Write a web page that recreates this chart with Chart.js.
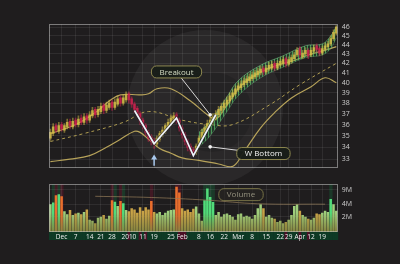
<!DOCTYPE html>
<html><head><meta charset="utf-8">
<script src="https://cdn.jsdelivr.net/npm/chart.js@4/dist/chart.umd.min.js"></script>
<style>
html,body{margin:0;padding:0;background:#1f1d1e;width:400px;height:264px;overflow:hidden;}
#wm{position:absolute;left:127px;top:30px;width:156px;height:156px;border-radius:50%;background:rgba(255,255,255,0.05);}
#wm2{position:absolute;left:172px;top:72px;width:80px;height:80px;border-radius:50%;background:rgba(0,0,0,0.12);}
#c1{position:absolute;left:0;top:0;}
#c2{position:absolute;left:0;top:176px;}
</style></head><body>
<div id="wm"></div><div id="wm2"></div>
<canvas id="c1" width="400" height="176"></canvas>
<canvas id="c2" width="400" height="88"></canvas>
<script>
// ---- data (trading days, index 0..102) ----
const xTickText = {4:'Dec',9:'7',14:'14',18:'21',22:'28',28:'2010',33:'11',37:'19',43:'25',47:'Feb',53:'8',57:'16',62:'22',67:'Mar',72:'8',77:'15',82:'22',85:'29',89:'Apr',93:'12',97:'19'};
const yTicks = [33,34,35,36,37,38,39,40,41,42,43,44,45,46];
const volTicks = [2,4,9];

const open = [34.8,35.2,35.9,35.4,36.0,35.5,35.8,36.3,35.8,36.4, 36.0,36.6,36.2,36.8,36.4,36.8,37.4,36.9,37.2,37.8,
 37.3,37.6,38.1,37.6,37.9,38.5,38.0,38.3,38.9,38.4, 37.9,37.5,37.0,36.4,35.9,35.3,34.9,34.6,34.3,34.7,
 35.1,35.4,35.8,36.1,36.4,36.9,36.4,35.7,35.1,34.5, 34.1,33.8,33.6,34.2,34.8,35.2,35.6,36.0,36.3,36.6,
 36.9,37.3,37.6,37.9,38.2,38.6,38.9,39.3,39.5,39.8, 40.0,40.2,40.4,40.6,40.8,41.0,41.5,41.1,41.4,41.5,
 42.0,41.5,41.8,42.0,42.5,41.9,42.2,42.5,42.9,43.6, 42.7,43.0,43.4,42.9,43.3,43.9,43.6,43.1,43.5,43.8,
 44.1,44.7,45.3];
const close = [35.3,35.8,35.5,35.9,35.6,35.9,36.2,35.9,36.3,36.0, 36.5,36.2,36.7,36.4,36.9,37.3,36.9,37.4,37.7,37.3,
 37.8,38.0,37.6,38.1,38.4,38.0,38.5,38.8,38.3,37.9, 37.4,37.0,36.3,35.9,35.3,34.8,34.5,34.3,34.8,35.2,
 35.5,35.9,36.2,36.6,36.8,36.4,35.7,35.1,34.5,34.0, 33.7,33.5,34.1,34.8,35.3,35.7,36.1,36.4,36.7,37.0,
 37.4,37.7,38.0,38.3,38.7,39.0,39.4,39.7,39.9,40.2, 40.4,40.6,40.8,41.0,41.2,41.4,41.1,41.5,41.8,41.9,
 41.5,42.0,42.2,42.4,41.9,42.4,42.6,42.9,43.4,42.9, 43.1,43.4,42.8,43.4,43.7,43.5,43.1,43.6,43.9,44.1,
 44.7,45.4,46.0];
const high = [35.6,36.1,36.1,36.2,36.2,36.1,36.5,36.5,36.6,36.6, 36.8,36.9,37.0,37.0,37.2,37.6,37.6,37.7,38.0,38.0,
 38.1,38.3,38.3,38.4,38.7,38.7,38.8,39.1,39.1,38.6, 38.1,37.7,37.2,36.6,36.1,35.5,35.1,34.8,35.0,35.4,
 35.8,36.1,36.5,36.9,37.1,37.1,36.6,35.9,35.3,34.7, 34.3,34.0,34.3,35.0,35.6,36.0,36.4,36.7,37.0,37.3,
 37.7,38.0,38.3,38.6,39.0,39.3,39.7,40.0,40.2,40.5, 40.7,40.9,41.1,41.3,41.5,41.7,41.7,41.8,42.1,42.2,
 42.2,42.3,42.5,42.7,42.7,42.7,42.9,43.2,43.7,43.8, 43.4,43.7,43.6,43.7,44.0,44.1,43.8,43.9,44.2,44.4,
 45.0,45.7,46.2];
const low = [34.6,35.0,35.3,35.2,35.4,35.3,35.6,35.6,35.6,35.8, 35.8,36.0,36.0,36.1,36.2,36.6,36.6,36.7,37.0,37.0,
 37.1,37.4,37.3,37.4,37.7,37.7,37.8,38.1,38.0,37.6, 37.1,36.7,36.0,35.6,35.0,34.5,34.2,33.9,34.1,34.5,
 34.9,35.2,35.6,35.9,36.2,36.1,35.4,34.8,34.2,33.7, 33.4,33.2,33.4,34.0,34.6,35.0,35.4,35.8,36.1,36.4,
 36.7,37.1,37.4,37.7,38.0,38.4,38.7,39.1,39.3,39.6, 39.8,40.0,40.2,40.4,40.6,40.8,40.8,40.9,41.2,41.3,
 41.2,41.3,41.6,41.8,41.6,41.7,42.0,42.3,42.7,42.6, 42.5,42.8,42.5,42.7,43.1,43.2,42.8,42.9,43.3,43.6,
 43.9,44.5,45.1];
const volume = [4.0,4.4,6.6,6.9,6.2,2.7,2.3,2.9,2.2,2.4, 2.5,2.3,2.6,3.0,1.7,1.6,1.4,1.9,2.0,2.2,
 1.8,2.1,5.0,4.6,3.6,4.8,4.2,2.9,2.7,3.2, 3.0,2.5,3.4,2.8,3.4,3.0,4.8,2.6,2.4,2.6,
 2.2,2.5,2.8,2.9,3.0,10.5,7.6,3.2,2.8,3.0, 2.6,3.1,3.5,2.4,1.6,5.0,9.5,6.0,4.5,2.2,
 2.6,2.0,2.3,2.4,2.2,2.0,1.7,2.3,2.4,2.0, 2.1,2.0,1.8,2.2,3.2,4.0,3.2,2.0,2.2,1.9,
 1.8,1.5,1.6,1.4,1.5,1.7,2.2,3.6,4.0,2.8, 2.2,2.0,1.8,1.7,1.9,2.4,2.3,2.5,2.8,2.6,
 5.3,4.0,2.8];
// indicator key points [dayIndex, value]
const upperBand = [[0,35.2],[9,36.0],[17,37.3],[21,38.2],[25,38.8],[32,38.8],[35,38.9],[38,39.4],[43,39.4],[50,38.2],[56,36.9],[59,36.5],[63,37.8],[68,39.7],[75,41.1],[82,41.9],[87,42.3],[93,43.0],[99,43.5],[102,43.8]];
const lowerBand = [[0,32.8],[7,33.0],[14,33.3],[20,34.0],[25,34.7],[30,35.4],[32,35.3],[35,34.7],[39,33.9],[43,33.5],[47,33.1],[53,32.9],[60,32.6],[65,32.4],[69,33.6],[75,35.7],[80,37.1],[86,38.5],[93,39.6],[98,40.5],[102,40.0]];
const midBand = [[0,34.5],[12,35.2],[26,36.2],[35,37.2],[47,36.4],[57,36.0],[65,36.0],[78,37.8],[89,39.8],[102,42.0]];
const trendTop = [[53,35.3],[57,36.3],[63,38.6],[67,40.2],[75,41.8],[83,42.8],[91,43.9],[97,44.1],[100,45.0],[102,46.1]];
const trendBot = [[53,34.0],[57,35.0],[63,37.2],[67,38.7],[75,40.5],[83,41.6],[91,42.6],[97,42.9],[100,43.6],[102,44.8]];
const wPattern = [[30,37.3],[37,34.3],[45,36.6],[51,33.3],[59,36.9]];
const volAvg = [[16,6.2],[36,5.8],[56,5.0],[74,4.1],[98,4.0]];
const notes = [
  {text:'Breakout', box:[45,41.1], target:[57,36.9], color:'#d4dcc4'},
  {text:'W Bottom', box:[76,33.47], target:[57,34.04], color:'#f2f2f2'}
];
const arrowAt = {i:37, from:32.45, to:33.3};
const volNote = {text:'Volume', box:[68,6.8]};

// ---- build tables ----
const N = close.length;
const xLabels = Array.from({length:N}, (_,i)=> xTickText[i] || '');
function fromKeys(pairs){ const a = new Array(N).fill(null); pairs.forEach(([i,v])=>{a[i]=v;}); return a; }
const UP='rgba(214,190,72,0.8)', DOWN='rgba(208,32,79,0.8)';
const candleColor = close.map((c,i)=> c>=open[i] ? UP : DOWN);
const wickColor = close.map((c,i)=> c>=open[i] ? 'rgba(214,190,72,0.5)' : 'rgba(208,32,79,0.5)');
const volColor = volume.map((v,i)=>{ const up = close[i]>=open[i]; if (up) return v>4 ? '#52dc7a' : '#9fcf7c'; return v>4 ? '#ea6f2c' : '#c9a347'; });
const FONT = 'Open Sans';
const GRID = 'rgba(255,255,255,0.075)';

function hatch(){
  const c=document.createElement('canvas'); c.width=3; c.height=4;
  const g=c.getContext('2d');
  g.fillStyle='rgba(30,120,60,0.22)'; g.fillRect(0,0,3,4);
  g.fillStyle='rgba(100,215,120,0.6)'; g.fillRect(1,0,1,4);
  return document.getElementById('c1').getContext('2d').createPattern(c,'repeat');
}

const frame = {
  id:'frame',
  afterDraw(chart){
    const a = chart.chartArea, ctx = chart.ctx;
    ctx.save(); ctx.strokeStyle='rgba(200,200,200,0.55)'; ctx.lineWidth=1;
    ctx.strokeRect(Math.round(a.left)+0.5, Math.round(a.top)+0.5, Math.round(a.right-a.left)-1, Math.round(a.bottom-a.top)-1);
    ctx.restore();
  }
};

function labelBox(ctx, text, cx, cy, font, color, border, fill){
  ctx.font = font;
  const w = ctx.measureText(text).width + 16, h = 12;
  ctx.beginPath(); ctx.roundRect(cx-w/2, cy-h/2, w, h, 5);
  ctx.fillStyle = fill; ctx.fill();
  ctx.strokeStyle = border; ctx.lineWidth = 1; ctx.stroke();
  ctx.fillStyle = color; ctx.textAlign='center'; ctx.textBaseline='middle';
  ctx.fillText(text, cx, cy+0.5);
}

const annot = {
  id:'annot',
  afterDatasetsDraw(chart){
    const {ctx, scales:{x,y}} = chart;
    ctx.save();
    // W pattern on top of everything
    const pts = wPattern.map(([i,v])=>[x.getPixelForValue(i), y.getPixelForValue(v)]);
    ctx.strokeStyle='rgba(25,25,30,0.6)'; ctx.lineWidth=3.2; ctx.lineJoin='miter';
    ctx.beginPath(); pts.forEach(([px,py],k)=> k? ctx.lineTo(px,py) : ctx.moveTo(px,py)); ctx.stroke();
    ctx.strokeStyle='#eef3fa'; ctx.lineWidth=1.7;
    ctx.beginPath(); pts.forEach(([px,py],k)=> k? ctx.lineTo(px,py) : ctx.moveTo(px,py)); ctx.stroke();
    // arrow
    const ax = x.getPixelForValue(arrowAt.i), y0 = y.getPixelForValue(arrowAt.from), y1 = y.getPixelForValue(arrowAt.to);
    ctx.strokeStyle='#a9c9ee'; ctx.fillStyle='#a9c9ee'; ctx.lineWidth=1.5;
    ctx.beginPath(); ctx.moveTo(ax,y0); ctx.lineTo(ax,y1+3); ctx.stroke();
    ctx.beginPath(); ctx.moveTo(ax,y1-1); ctx.lineTo(ax-3,y1+4); ctx.lineTo(ax+3,y1+4); ctx.closePath(); ctx.fill();
    notes.forEach(n=>{
      const bx = x.getPixelForValue(n.box[0]), by = y.getPixelForValue(n.box[1]);
      const tx = x.getPixelForValue(n.target[0]), ty = y.getPixelForValue(n.target[1]);
      ctx.strokeStyle='rgba(235,235,235,0.9)'; ctx.lineWidth=1;
      ctx.beginPath(); ctx.moveTo(bx,by); ctx.lineTo(tx,ty); ctx.stroke();
      ctx.fillStyle='#f4f4f4'; ctx.beginPath(); ctx.arc(tx,ty,1.8,0,Math.PI*2); ctx.fill();
      labelBox(ctx, n.text, bx, by, '8px "'+FONT+'"', n.color, '#8e8850', 'rgba(24,30,24,0.95)');
    });
    ctx.restore();
  }
};

new Chart(document.getElementById('c1'), {
  type:'bar',
  data:{
    labels:xLabels,
    datasets:[
      {type:'bar', label:'Body', data:open.map((o,i)=>[Math.min(o,close[i]),Math.max(o,close[i])]), backgroundColor:candleColor, barThickness:2, grouped:false, order:1},
      {type:'bar', label:'Wick', data:low.map((l,i)=>[l,high[i]]), backgroundColor:wickColor, barThickness:1, grouped:false, order:2},
      {type:'line', label:'Trend top', data:fromKeys(trendTop), spanGaps:true, borderColor:'rgba(140,220,150,0.6)', borderWidth:0.8, pointRadius:0, tension:0.4, fill:'+1', backgroundColor:hatch(), order:5},
      {type:'line', label:'Trend bottom', data:fromKeys(trendBot), spanGaps:true, borderColor:'rgba(140,220,150,0.4)', borderWidth:0.8, pointRadius:0, tension:0.4, order:6},
      {type:'line', label:'Upper', data:fromKeys(upperBand), spanGaps:true, borderColor:'#b7a35a', borderWidth:1.2, pointRadius:0, tension:0.4, order:7},
      {type:'line', label:'Lower', data:fromKeys(lowerBand), spanGaps:true, borderColor:'#b7a35a', borderWidth:1.2, pointRadius:0, tension:0.4, order:8},
      {type:'line', label:'Middle', data:fromKeys(midBand), spanGaps:true, borderColor:'#b09e52', borderDash:[3,3], borderWidth:1, pointRadius:0, tension:0.4, order:9}
    ]
  },
  options:{
    responsive:false, animation:false, devicePixelRatio:1,
    layout:{padding:{left:49, top:24, right:0, bottom:4.5}},
    plugins:{legend:{display:false}, tooltip:{enabled:false}},
    scales:{
      x:{type:'category', offset:true,
         grid:{color:GRID, drawTicks:false, offset:false}, border:{display:false},
         ticks:{display:false, autoSkip:false},
         afterBuildTicks:s=>{ s.ticks = s.ticks.filter(t=>xLabels[t.value]); },
         afterFit:s=>{ s.height = 0; }},
      y:{type:'logarithmic', position:'right', min:32.29, max:46.37,
         afterBuildTicks:s=>{ s.ticks = yTicks.map(v=>({value:v})); },
         afterFit:s=>{ s.width = 62.3; },
         grid:{color:GRID, drawTicks:false}, border:{display:false},
         ticks:{color:'#cccccc', font:{size:7, family:FONT}, padding:4, autoSkip:false, callback:v=>String(v)}}
    }
  },
  plugins:[frame, annot]
});

const volBg = {
  id:'volBg',
  beforeDraw(chart){
    const {ctx, chartArea:a, scales:{x}} = chart;
    const w = x.getPixelForValue(1) - x.getPixelForValue(0);
    ctx.save();
    for (let i=0;i<N;i++){
      const cx = x.getPixelForValue(i), drop = open[i]-close[i];
      ctx.fillStyle = drop >= 0.6 ? '#4c1026' : '#0e3a25';
      ctx.fillRect(cx-w/2, a.bottom, w+0.5, 8);
      if (volume[i] > 4){
        ctx.fillStyle = close[i]>=open[i] ? 'rgba(20,110,60,0.35)' : 'rgba(130,20,50,0.35)';
        ctx.fillRect(cx-w/2, a.top, w+0.5, a.bottom-a.top);
      }
    }
    ctx.restore();
  },
  afterDatasetsDraw(chart){
    const {ctx, scales:{x,y}} = chart;
    ctx.save();
    ctx.globalAlpha = 0.9;
    labelBox(ctx, volNote.text, x.getPixelForValue(volNote.box[0]), y.getPixelForValue(volNote.box[1]), '8px "'+FONT+'"', '#a09c88', '#7f7a4a', 'rgba(40,38,34,0.7)');
    ctx.restore();
  }
};

new Chart(document.getElementById('c2'), {
  type:'bar',
  data:{
    labels:xLabels,
    datasets:[
      {type:'line', label:'Vol avg', data:fromKeys(volAvg), spanGaps:true, borderColor:'rgba(150,125,90,0.7)', borderWidth:1, pointRadius:0, tension:0.4, order:0},
      {type:'bar', label:'Volume', data:volume, barPercentage:1, categoryPercentage:0.9, order:1,
       backgroundColor:(c)=>{
         const col = volColor[c.dataIndex] || '#9fcf7c';
         const a = c.chart.chartArea; if (!a) return col;
         const g = c.chart.ctx.createLinearGradient(0,a.top,0,a.bottom);
         g.addColorStop(0,col); g.addColorStop(0.6,col); g.addColorStop(1,'rgba(150,150,70,0.85)');
         return g;
       }}
    ]
  },
  options:{
    responsive:false, animation:false, devicePixelRatio:1,
    layout:{padding:{left:49, top:5, right:0, bottom:0}},
    plugins:{legend:{display:false}, tooltip:{enabled:false}},
    scales:{
      x:{type:'category', offset:true,
         grid:{color:GRID, drawTicks:false, offset:false}, border:{display:false},
         ticks:{color:'#eeeeee', font:{size:6.5, family:FONT}, padding:1, autoSkip:false, maxRotation:0},
         afterBuildTicks:s=>{ s.ticks = s.ticks.filter(t=>xLabels[t.value]); },
         afterFit:s=>{ s.height = 32; }},
      y:{type:'logarithmic', position:'right', min:0.859, max:12.1,
         afterBuildTicks:s=>{ s.ticks = volTicks.map(v=>({value:v})); },
         afterFit:s=>{ s.width = 62.3; },
         grid:{color:GRID, drawTicks:false}, border:{display:false},
         ticks:{color:'#cccccc', font:{size:7, family:FONT}, padding:4, autoSkip:false, callback:v=>v+'M'}}
    }
  },
  plugins:[volBg, frame]
});
</script>
</body></html>
